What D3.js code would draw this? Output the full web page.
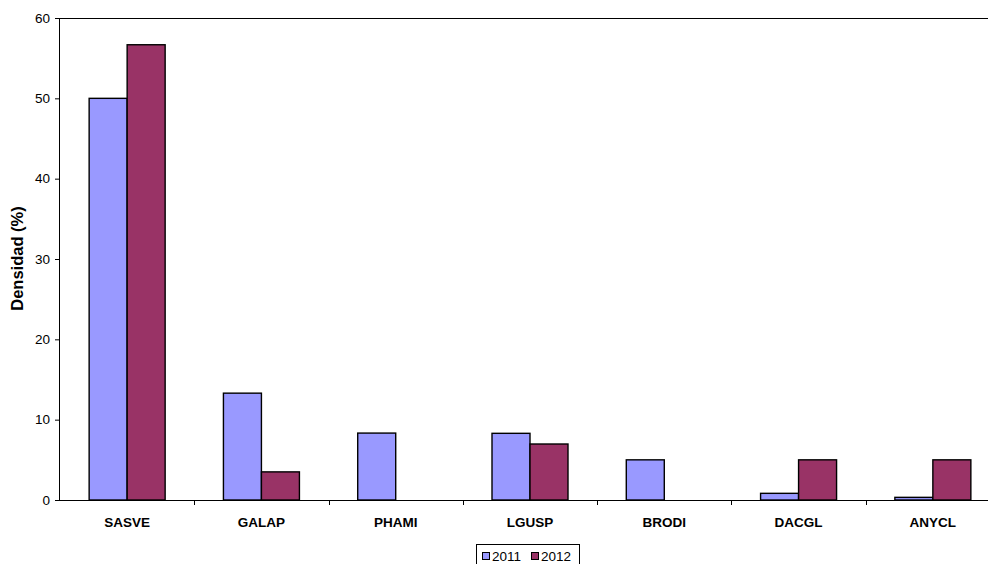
<!DOCTYPE html>
<html>
<head>
<meta charset="utf-8">
<script src="https://cdn.jsdelivr.net/npm/d3@7"></script>
<style>
  html, body { margin: 0; padding: 0; background: #fff; }
  svg { display: block; font-family: "Liberation Sans", Arial, sans-serif; }
</style>
</head>
<body>
<svg id="chart" width="988" height="564"></svg>
<script>
// Species codes and density (%) by year
const categories = ["SASVE", "GALAP", "PHAMI", "LGUSP", "BRODI", "DACGL", "ANYCL"];
const years = ["2011", "2012"];
const values2011 = [50, 13.3, 8.33, 8.3, 5, 0.83, 0.33];
const values2012 = [56.67, 3.5, 0, 6.97, 0, 5, 5];
const yTicks = [0, 10, 20, 30, 40, 50, 60];
const colors = ["#9999FF", "#993366"];

const seriesValues = [values2011, values2012];
const svg = d3.select("#chart");

const plotLeft = 60, plotRight = 1000, plotTop = 18, plotBottom = 500;

const x = d3.scaleBand().domain(categories).range([plotLeft, plotRight]).paddingInner(0).paddingOuter(0);
const xInner = d3.scaleBand().domain(years).range([0, x.bandwidth()]).paddingInner(0).paddingOuter(0.767);
const y = d3.scaleLinear().domain([0, 60]).range([plotBottom, plotTop]);

// top boundary line at 60
svg.append("line")
  .attr("x1", plotLeft).attr("x2", 988)
  .attr("y1", y(60) + 0.5).attr("y2", y(60) + 0.5)
  .attr("stroke", "#000").attr("stroke-width", 1);

// bars
const groups = svg.append("g").selectAll("g")
  .data(categories)
  .join("g")
  .attr("transform", d => `translate(${x(d)},0)`);

groups.selectAll("rect")
  .data((d, i) => years.map((yr, k) => ({ yr, k, v: seriesValues[k][i] })).filter(e => e.v > 0))
  .join("rect")
  .attr("x", d => xInner(d.yr))
  .attr("width", xInner.bandwidth())
  .attr("y", d => y(d.v))
  .attr("height", d => y(0) - y(d.v))
  .attr("fill", d => colors[d.k])
  .attr("stroke", "#000")
  .attr("stroke-width", 1.4);

// y axis
const yAxis = d3.axisLeft(y).tickValues(yTicks).tickSize(5).tickPadding(5).tickFormat(d3.format("d"));
const gy = svg.append("g").attr("transform", `translate(${plotLeft},0)`).call(yAxis);
gy.select(".domain").attr("stroke", "#000").attr("d", `M-0.5,${plotTop}V${plotBottom}`);
gy.selectAll(".tick line").attr("stroke", "#000");
gy.selectAll("text").attr("font-size", 13.5).attr("fill", "#000")
  .attr("font-family", "'Liberation Sans', Arial, sans-serif");

// x axis baseline and tick marks at category boundaries
const gx = svg.append("g");
gx.append("line")
  .attr("x1", plotLeft).attr("x2", 988).attr("y1", plotBottom + 0.5).attr("y2", plotBottom + 0.5)
  .attr("stroke", "#000");
gx.selectAll("line.tk")
  .data(categories.slice(1))
  .join("line")
  .attr("class", "tk")
  .attr("x1", d => Math.round(x(d)) + 0.5).attr("x2", d => Math.round(x(d)) + 0.5)
  .attr("y1", plotBottom).attr("y2", plotBottom + 5)
  .attr("stroke", "#000");
gx.selectAll("text")
  .data(categories)
  .join("text")
  .attr("x", d => x(d) + x.bandwidth() / 2)
  .attr("y", plotBottom + 27)
  .attr("text-anchor", "middle")
  .attr("font-size", 13.5)
  .attr("font-weight", "bold")
  .text(d => d);

// y axis title
svg.append("text")
  .attr("transform", `translate(23,${258.5}) rotate(-90)`)
  .attr("text-anchor", "middle")
  .attr("font-size", 16.5)
  .attr("font-weight", "bold")
  .text("Densidad (%)");

// legend
const lg = svg.append("g").attr("transform", "translate(476,544)");
lg.append("rect")
  .attr("x", 0.5).attr("y", 0.5).attr("width", 103).attr("height", 26)
  .attr("fill", "#fff").attr("stroke", "#000");
years.forEach((yr, k) => {
  const ox = 6 + k * 49;
  lg.append("rect")
    .attr("x", ox + 0.5).attr("y", 8.5).attr("width", 7).attr("height", 7)
    .attr("fill", colors[k]).attr("stroke", "#000");
  lg.append("text")
    .attr("x", ox + 10).attr("y", 17)
    .attr("font-size", 13.5)
    .text(yr);
});
</script>
</body>
</html>
